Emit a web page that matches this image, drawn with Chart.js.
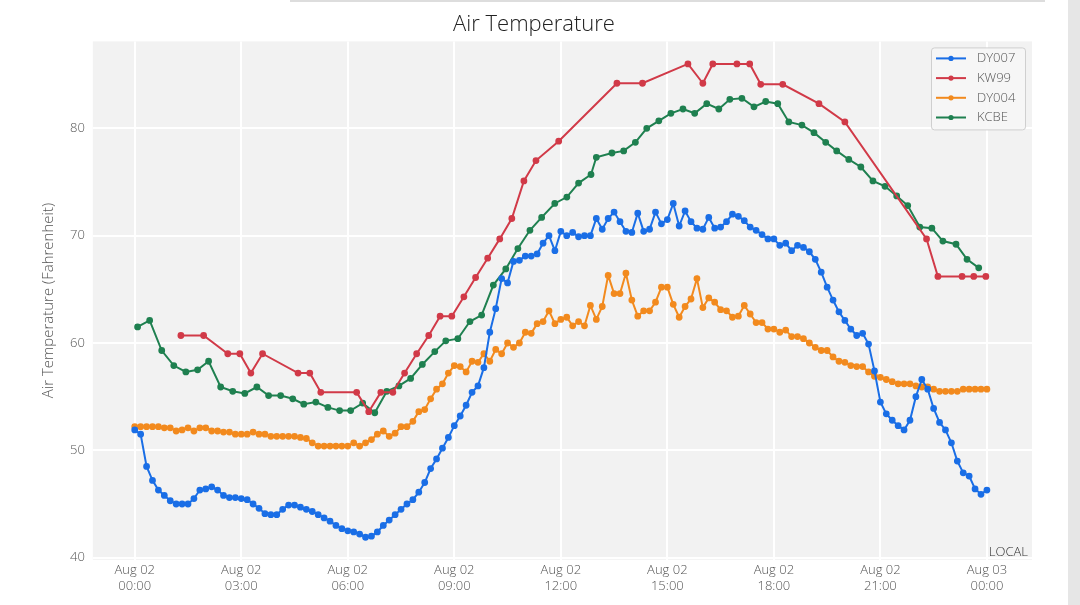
<!DOCTYPE html>
<html>
<head>
<meta charset="utf-8">
<script src="https://cdn.jsdelivr.net/npm/chart.js@4/dist/chart.umd.min.js"></script>
<style>
  html, body { margin: 0; padding: 0; background: #fff; }
  #wrap { position: absolute; left: 0; top: 0; width: 1080px; height: 605px; }
  #strip { position: absolute; left: 1068px; top: 0; width: 12px; height: 605px; background: #e6e6e6; }
  #topline { position: absolute; left: 290px; top: 0; width: 755px; height: 2px; background: #ddd; }
</style>
</head>
<body>
<div id="topline"></div>
<div id="wrap"><canvas id="chart" width="1080" height="605"></canvas></div>
<div id="strip"></div>
<script>
// Tick positions (hours after Aug 02 00:00) and labels
const tickHours = [0, 3, 6, 9, 12, 15, 18, 21, 24];
const tickLabels = [
  ['Aug 02', '00:00'], ['Aug 02', '03:00'], ['Aug 02', '06:00'], ['Aug 02', '09:00'],
  ['Aug 02', '12:00'], ['Aug 02', '15:00'], ['Aug 02', '18:00'], ['Aug 02', '21:00'],
  ['Aug 03', '00:00']
];
const yTicks = [40, 50, 60, 70, 80];

// DY007: 10-minute readings from 00:00
const dy007Temps = [
  51.9, 51.5, 48.5, 47.2, 46.3, 45.8, 45.3, 45.0, 45.0, 45.0,
  45.5, 46.3, 46.4, 46.6, 46.3, 45.8, 45.6, 45.6, 45.5, 45.4,
  45.0, 44.6, 44.1, 44.0, 44.0, 44.5, 44.9, 44.9, 44.7, 44.5,
  44.3, 44.0, 43.7, 43.4, 43.0, 42.7, 42.5, 42.4, 42.2, 41.9,
  42.0, 42.4, 43.0, 43.5, 44.0, 44.5, 45.0, 45.4, 46.1, 47.0,
  48.3, 49.2, 50.2, 51.2, 52.3, 53.2, 54.2, 55.4, 56.0, 57.7,
  61.0, 63.2, 66.0,
  65.6, 67.6, 67.7, 68.1, 68.1, 68.3, 69.3, 70.0, 68.6, 70.4,
  70.0, 70.3, 69.9, 70.0, 70.0, 71.6, 70.6, 71.6, 72.2, 71.3,
  70.4, 70.3, 72.1, 70.4, 70.6, 72.2, 71.1, 71.5, 73.0, 70.9,
  72.3, 71.3, 70.7, 70.6, 71.7, 70.7, 70.8, 71.3, 72.0, 71.8,
  71.4, 70.8, 70.5, 70.1, 69.7, 69.7, 69.1, 69.3, 68.6, 69.1,
  68.9, 68.5, 67.8, 66.6, 65.2, 64.0, 62.9, 62.1, 61.3, 60.7,
  60.9, 59.9, 57.4, 54.5, 53.4, 52.8, 52.3, 51.9, 52.8, 55.0,
  56.6, 55.7, 53.9, 52.6, 51.9, 50.7, 49.0, 47.9, 47.6, 46.4,
  45.9, 46.3
];

// DY004: 10-minute readings from 00:00
const dy004Temps = [
  52.2, 52.2, 52.2, 52.2, 52.2, 52.1, 52.1, 51.8, 51.9, 52.1,
  51.8, 52.1, 52.1, 51.8, 51.8, 51.7, 51.7, 51.5, 51.5, 51.5,
  51.7, 51.5, 51.5, 51.3, 51.3, 51.3, 51.3, 51.3, 51.2, 51.1,
  50.7, 50.4, 50.4, 50.4, 50.4, 50.4, 50.4, 50.7, 50.4, 50.7,
  51.0, 51.5, 51.8, 51.3, 51.6, 52.2, 52.2, 52.7, 53.6, 53.8,
  54.8, 55.7, 56.2, 57.2, 57.9, 57.8, 57.3, 58.3,
  58.2, 59.0, 58.3, 59.4, 59.0, 60.0, 59.6, 60.0, 61.0, 60.9,
  61.8, 62.0, 63.0, 61.8, 62.2, 62.4, 61.6, 62.0, 61.6, 63.5,
  62.2, 63.4, 66.3, 64.6, 64.6, 66.5, 64.0, 62.5, 63.0, 63.0,
  63.8, 65.2, 65.2, 63.6, 62.4, 63.4, 64.1, 66.0, 63.3, 64.2,
  63.8, 63.1, 63.0, 62.4, 62.5, 63.5, 62.7, 61.9, 61.9, 61.3,
  61.3, 61.0, 61.2, 60.6, 60.6, 60.4, 60.0, 59.6, 59.3, 59.3,
  58.7, 58.3, 58.2, 57.9, 57.8,
  57.8, 57.3, 56.9, 56.8, 56.6, 56.4, 56.2, 56.2, 56.2, 56.0,
  55.9, 55.9, 55.7, 55.5, 55.5, 55.5, 55.5, 55.7, 55.7, 55.7,
  55.7, 55.7
];

// KW99: irregular readings
const kw99Hours = [1.3, 1.94, 2.62, 2.96, 3.27, 3.6, 4.6, 4.93, 5.24, 6.25, 6.59, 6.93, 7.27, 7.6,
  7.94, 8.28, 8.6, 8.93, 9.27, 9.6, 9.94, 10.28, 10.62, 10.96, 11.3, 11.94, 13.58, 14.3, 15.58,
  16.0, 16.28, 16.96, 17.32, 17.63, 18.25, 19.27, 20.0, 22.3, 22.62, 23.3, 23.63, 23.97];
const kw99Temps = [60.7, 60.7, 59.0, 59.0, 57.2, 59.0, 57.2, 57.2, 55.4, 55.4, 53.6, 55.4, 55.4, 57.2,
  59.0, 60.7, 62.5, 62.5, 64.3, 66.1, 67.9, 69.7, 71.6, 75.1, 77.0, 78.8, 84.2, 84.2, 86.0,
  84.2, 86.0, 86.0, 86.0, 84.1, 84.1, 82.3, 80.6, 69.7, 66.2, 66.2, 66.2, 66.2];

// KCBE: irregular readings
const kcbeHours = [0.08, 0.42, 0.76, 1.1, 1.44, 1.77, 2.08, 2.42, 2.76, 3.1, 3.44, 3.77, 4.11, 4.45,
  4.76, 5.1, 5.44, 5.77, 6.08, 6.42, 6.76, 7.1, 7.44, 7.77, 8.1, 8.45, 8.76, 9.1, 9.44, 9.77,
  10.1, 10.45, 10.79, 11.13, 11.46, 11.83, 12.17, 12.5, 12.85, 13.0, 13.44, 13.77, 14.1, 14.42,
  14.76, 15.1, 15.44, 15.77, 16.11, 16.45, 16.76, 17.1, 17.44, 17.77, 18.11, 18.42, 18.79, 19.13,
  19.46, 19.77, 20.11, 20.45, 20.79, 21.13, 21.46, 21.77, 22.11, 22.45, 22.76, 23.13, 23.44, 23.77];
const kcbeTemps = [61.5, 62.1, 59.3, 57.9, 57.3, 57.5, 58.3, 55.9, 55.5, 55.3, 55.9, 55.1, 55.1, 54.8,
  54.3, 54.5, 54.0, 53.7, 53.7, 54.4, 53.5, 55.5, 56.0, 56.7, 58.0, 59.2, 60.2, 60.4, 62.0, 62.6,
  65.4, 66.9, 68.8, 70.5, 71.7, 73.0, 73.6, 74.9, 75.7, 77.3, 77.7, 77.9, 78.7, 80.0,
  80.7, 81.4, 81.8, 81.4, 82.3, 81.8, 82.7, 82.8, 82.0, 82.5, 82.3, 80.6, 80.3, 79.6,
  78.7, 77.9, 77.1, 76.4, 75.1, 74.6, 73.7, 72.8, 70.8, 70.7, 69.5, 69.2, 67.8, 67.0];

function everyTenMinutes(temps) {
  return temps.map((t, i) => ({ x: i / 6, y: t }));
}
function paired(hours, temps) {
  return hours.map((h, i) => ({ x: h, y: temps[i] }));
}

const FONT = '"Open Sans", Lato, sans-serif';

function series(label, color, data) {
  return {
    label: label, data: data,
    borderColor: color, backgroundColor: color,
    borderWidth: 2, pointRadius: 2.4, pointHoverRadius: 2.4, tension: 0
  };
}

// Plot background + inside legend + LOCAL note
const decor = {
  id: 'decor',
  beforeDraw(chart) {
    const { ctx, chartArea: a } = chart;
    ctx.save();
    ctx.fillStyle = '#f2f2f2';
    ctx.fillRect(a.left, a.top, a.right - a.left, a.bottom - a.top);
    ctx.restore();
  },
  afterDraw(chart) {
    const { ctx, chartArea: a } = chart;
    ctx.save();
    const bx = a.right - 101, by = a.top + 6, bw = 94, bh = 82;
    ctx.fillStyle = 'rgba(246,246,246,0.9)';
    ctx.strokeStyle = '#cfcfcf';
    ctx.lineWidth = 1;
    ctx.beginPath();
    ctx.roundRect(bx + 0.5, by + 0.5, bw, bh, 3);
    ctx.fill(); ctx.stroke();
    ctx.font = '300 13px ' + FONT;
    ctx.textBaseline = 'middle';
    chart.data.datasets.forEach((ds, i) => {
      const y = by + 11 + i * 19.7;
      ctx.strokeStyle = ds.borderColor;
      ctx.fillStyle = ds.borderColor;
      ctx.lineWidth = 2;
      ctx.beginPath(); ctx.moveTo(bx + 5, y); ctx.lineTo(bx + 35, y); ctx.stroke();
      ctx.beginPath(); ctx.arc(bx + 20, y, 2.6, 0, Math.PI * 2); ctx.fill();
      ctx.fillStyle = '#555';
      ctx.fillText(ds.label, bx + 46, y);
    });
    ctx.fillStyle = '#333';
    ctx.textAlign = 'right';
    ctx.textBaseline = 'bottom';
    ctx.fillText('LOCAL', a.right - 4, a.bottom - 1);
    ctx.restore();
  }
};

new Chart(document.getElementById('chart'), {
  type: 'line',
  data: {
    datasets: [
      series('DY007', '#1a6ee6', everyTenMinutes(dy007Temps)),
      series('KW99', '#d13a48', paired(kw99Hours, kw99Temps)),
      series('DY004', '#f28a1e', everyTenMinutes(dy004Temps)),
      series('KCBE', '#1f8050', paired(kcbeHours, kcbeTemps))
    ]
  },
  plugins: [decor],
  options: {
    responsive: false,
    animation: false,
    layout: { padding: { left: 36, right: 48, top: 0, bottom: 8 } },
    plugins: {
      legend: { display: false },
      tooltip: { enabled: false },
      title: {
        display: true, text: 'Air Temperature', color: '#222',
        font: { family: FONT, size: 22, weight: '300' },
        padding: { top: 12, bottom: 3 }
      }
    },
    scales: {
      x: {
        type: 'linear', min: -1.18, max: 25.27,
        afterBuildTicks(axis) { axis.ticks = tickHours.map(v => ({ value: v })); },
        ticks: {
          color: '#555', font: { family: FONT, size: 13, weight: '300' }, padding: 3, maxRotation: 0, autoSkip: false,
          callback: (v) => tickLabels[tickHours.indexOf(v)]
        },
        grid: { color: '#ffffff', lineWidth: 2, drawTicks: false },
        border: { display: false }
      },
      y: {
        min: 39.8, max: 88.1,
        afterBuildTicks(axis) { axis.ticks = yTicks.map(v => ({ value: v })); },
        ticks: { color: '#555', font: { family: FONT, size: 13, weight: '300' }, padding: 8 },
        grid: { color: '#ffffff', lineWidth: 2, drawTicks: false },
        border: { display: false },
        title: {
          display: true, text: 'Air Temperature (Fahrenheit)', color: '#555',
          font: { family: FONT, size: 15, weight: '300' }, padding: { bottom: 4 }
        }
      }
    }
  }
});
</script>
</body>
</html>
